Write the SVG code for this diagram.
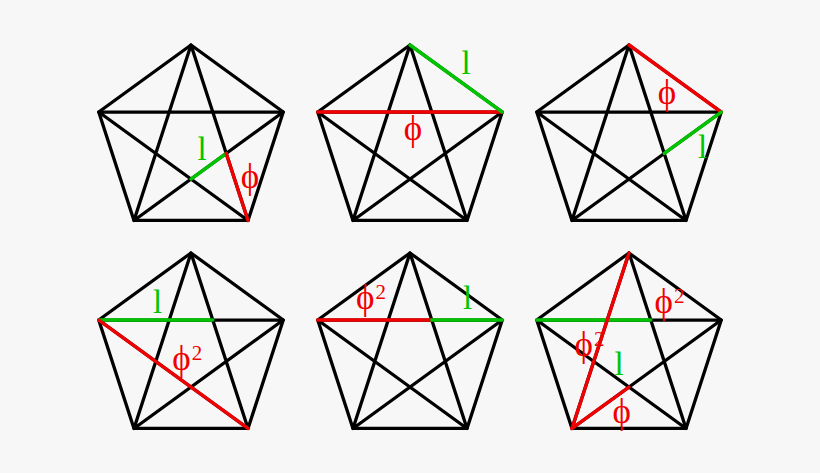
<svg xmlns="http://www.w3.org/2000/svg" xmlns:xlink="http://www.w3.org/1999/xlink" width="820" height="473" viewBox="0 0 820 473">
  <style>
    .base { fill: none; stroke: #000; stroke-width: 3.3; stroke-linejoin: round; stroke-linecap: round; }
    .g { fill: none; stroke: #00c400; stroke-width: 3.4; stroke-linecap: round; }
    .r { fill: none; stroke: #f00000; stroke-width: 3.4; stroke-linecap: round; }
    .lbl { font-family: "Liberation Serif", "DejaVu Serif", serif; font-size: 33px; }
    .phi { font-size: 35px; }
    .lg { fill: #00c400; }
    .lr { fill: #f00000; }
    .sup { font-size: 21px; }
  </style>
  <defs>
    <g id="penta">
      <polygon points="0,-97 92.25,-29.97 57.02,78.47 -57.02,78.47 -92.25,-29.97"/>
      <polygon points="0,-97 57.02,78.47 -92.25,-29.97 92.25,-29.97 -57.02,78.47"/>
    </g>
  </defs>
  <rect width="820" height="473" fill="#f7f7f7"/>

  <g id="fig1" transform="translate(191,142)">
    <use xlink:href="#penta" href="#penta" class="base"/>
    <g id="fig1-connectors">
      <line class="g" x1="0" y1="37.05" x2="35.24" y2="11.45"/>
      <line class="r" x1="35.24" y1="11.45" x2="57.02" y2="78.47"/>
    </g>
    <text class="lbl lg" x="11" y="18" text-anchor="middle">l</text>
    <text class="lbl phi lr" x="59" y="46" text-anchor="middle">ϕ</text>
  </g>

  <g id="fig2" transform="translate(410,142)">
    <use xlink:href="#penta" href="#penta" class="base"/>
    <g id="fig2-connectors">
      <line class="r" x1="-92.25" y1="-29.97" x2="92.25" y2="-29.97"/>
      <line class="g" x1="0" y1="-97" x2="92.25" y2="-29.97"/>
    </g>
    <text class="lbl lg" x="56" y="-68" text-anchor="middle">l</text>
    <text class="lbl phi lr" x="3" y="-2" text-anchor="middle">ϕ</text>
  </g>

  <g id="fig3" transform="translate(629,142)">
    <use xlink:href="#penta" href="#penta" class="base"/>
    <g id="fig3-connectors">
      <line class="r" x1="0" y1="-97" x2="92.25" y2="-29.97"/>
      <line class="g" x1="35.24" y1="11.45" x2="92.25" y2="-29.97"/>
    </g>
    <text class="lbl phi lr" x="38" y="-38" text-anchor="middle">ϕ</text>
    <text class="lbl lg" x="73.5" y="16" text-anchor="middle">l</text>
  </g>

  <g id="fig4" transform="translate(191,350)">
    <use xlink:href="#penta" href="#penta" class="base"/>
    <g id="fig4-connectors">
      <line class="g" x1="-92.25" y1="-29.97" x2="21.78" y2="-29.97"/>
      <line class="r" x1="-92.25" y1="-29.97" x2="57.02" y2="78.47"/>
    </g>
    <text class="lbl lg" x="-33.5" y="-37.3" text-anchor="middle">l</text>
    <text class="lbl phi lr" x="-18.8" y="20">ϕ<tspan class="sup" dx="1" dy="-10">2</tspan></text>
  </g>

  <g id="fig5" transform="translate(410,350)">
    <use xlink:href="#penta" href="#penta" class="base"/>
    <g id="fig5-connectors">
      <line class="r" x1="-92.25" y1="-29.97" x2="21.78" y2="-29.97"/>
      <line class="g" x1="21.78" y1="-29.97" x2="92.25" y2="-29.97"/>
    </g>
    <text class="lbl phi lr" x="-54" y="-41">ϕ<tspan class="sup" dx="1" dy="-10">2</tspan></text>
    <text class="lbl lg" x="57.5" y="-41" text-anchor="middle">l</text>
  </g>

  <g id="fig6" transform="translate(629,350)">
    <use xlink:href="#penta" href="#penta" class="base"/>
    <g id="fig6-connectors">
      <line class="g" x1="-92.25" y1="-29.97" x2="21.78" y2="-29.97"/>
      <line class="r" x1="0" y1="-97" x2="-57.02" y2="78.47"/>
      <line class="r" x1="-57.02" y1="78.47" x2="0" y2="37.05"/>
    </g>
    <text class="lbl phi lr" x="25.5" y="-37">ϕ<tspan class="sup" dx="1" dy="-10">2</tspan></text>
    <text class="lbl phi lr" x="-54.5" y="6">ϕ<tspan class="sup" dx="1" dy="-10">2</tspan></text>
    <text class="lbl lg" x="-10" y="25" text-anchor="middle">l</text>
    <text class="lbl phi lr" x="-7.3" y="73" text-anchor="middle">ϕ</text>
  </g>
</svg>
